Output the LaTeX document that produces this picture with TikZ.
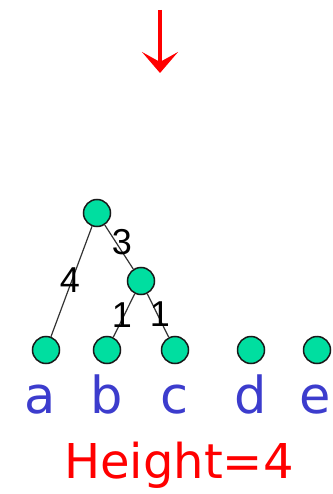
\documentclass[tikz,border=0pt]{standalone}
\usepackage{fontspec}
\setmainfont{DejaVu Sans}
\newfontfamily\numfont{Liberation Sans}
\usetikzlibrary{arrows.meta}
\definecolor{nodegreen}{RGB}{0,222,160}
\definecolor{lblue}{RGB}{60,60,205}
\definecolor{hred}{RGB}{255,0,0}
\tikzset{
  vert/.style={circle,draw=black!90,line width=1.5pt,fill=nodegreen,minimum size=27pt,inner sep=0pt},
  edge/.style={draw=black!80,line width=1.2pt},
  wlabel/.style={font=\numfont\fontsize{36}{36}\selectfont,text=black,inner sep=0pt},
  leaf/.style={font=\fontsize{51}{51}\selectfont,text=lblue,inner sep=0pt,anchor=base},
}
\begin{document}
\begin{tikzpicture}[x=1pt,y=-1pt]
\useasboundingbox (0,0) rectangle (332,494);
% arrow
\coordinate (arrtop) at (160,10);
\coordinate (arrtip) at (160,73);
\draw[hred,line width=3.5pt,-{Stealth[length=21pt,width=36pt,inset=10pt]}] (arrtop) -- (arrtip);
% nodes
\node[vert] (r) at (97,213) {};
\node[vert] (m) at (141,281) {};
\node[vert] (a) at (46,350) {};
\node[vert] (b) at (107,350) {};
\node[vert] (c) at (175,350) {};
\node[vert] (d) at (251,350) {};
\node[vert] (e) at (317,350) {};
% edges
\path[edge] (r) -- (a);
\path[edge] (r) -- (m);
\path[edge] (m) -- (b);
\path[edge] (m) -- (c);
% weights
\node[wlabel] (w3) at (122,242) {3};
\node[wlabel] (w4) at (70,280) {4};
\node[wlabel] (w1a) at (122,315) {1};
\node[wlabel] (w1b) at (160,314) {1};
% leaf labels
\node[leaf] (la) at (40,413) {a};
\node[leaf] (lb) at (107,413) {b};
\node[leaf] (lc) at (175,413) {c};
\node[leaf] (ld) at (251,413) {d};
\node[leaf] (le) at (315,413) {e};
% height
\node[font=\fontsize{48}{48}\selectfont,text=hred,inner sep=0pt,anchor=base] (h) at (179,478) {Height=4};
\end{tikzpicture}
\end{document}
